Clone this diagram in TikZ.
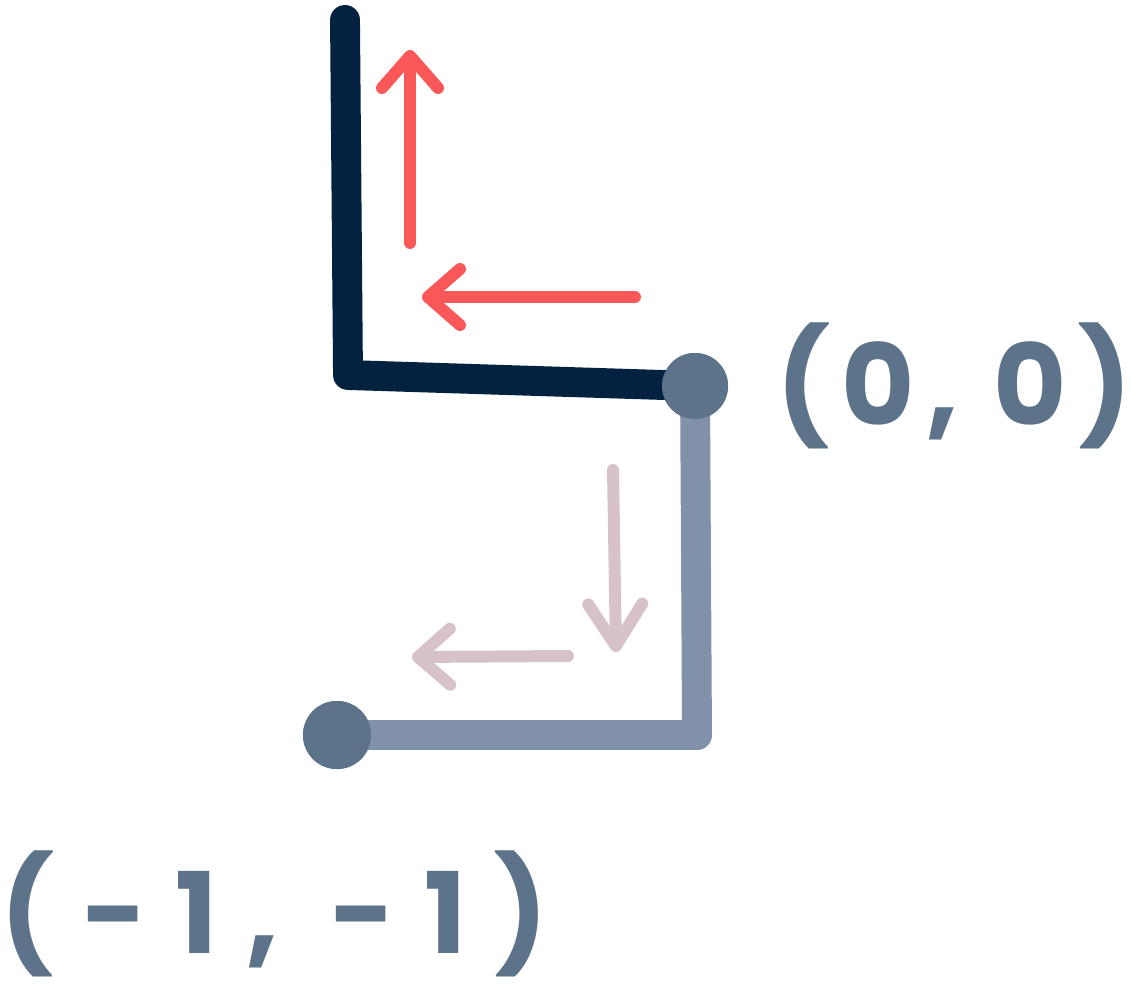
\documentclass[tikz,border=0pt]{standalone}
\usepackage{fontspec}
\setmainfont{Poppins}
\newfontfamily\sketchfont[LetterSpace=10]{Poppins Bold}
\newfontfamily\sketchwidefont[LetterSpace=25]{Poppins Bold}
\usetikzlibrary{arrows.meta}

\definecolor{pathdark}{HTML}{03223F}
\definecolor{pathgrey}{HTML}{8191A9}
\definecolor{dotblue}{HTML}{5D7389}
\definecolor{arrowred}{HTML}{FA5858}
\definecolor{arrowpink}{HTML}{D8C2CA}

\begin{document}
\begin{tikzpicture}[%
        x = 0.01cm, y = -0.01cm,
        leg/.style = {line width = 8.5pt, line cap = round, line join = round},
        dot/.style = {circle, fill = dotblue, inner sep = 0pt},
        hint/.style = {%
            line width = 3.4pt, line cap = round,
            -{Straight Barb[length = 3.2mm, width = 5.6mm, line cap = round, line join = round]}
        },
        label/.style = {text = dotblue, inner sep = 0pt, font = \fontsize{32}{32}\selectfont}
    ]

        % Fix the page to the size of the reference.
        \useasboundingbox (0, 0) rectangle (1131, 1000);

        % Corner points of the two legs.
        \coordinate (top) at (345, 20);
        \coordinate (bend) at (348, 375);
        \coordinate (turn) at (697, 735);

        % The two end dots.
        \node[dot, minimum width = 0.58cm, minimum height = 0.66cm] (origin) at (695, 386) {};
        \node[dot, minimum size = 0.68cm] (target) at (337, 735) {};

        % Light leg first, so the dark one sits over the dot edge.
        \draw[leg, pathgrey] (origin.center) -- (turn) -- (target.center);
        \draw[leg, pathdark] (top) -- (bend) -- (origin.center);
        \node[dot, minimum width = 0.58cm, minimum height = 0.66cm] at (origin) {};
        \node[dot, minimum size = 0.68cm] at (target) {};

        % Red arrows along the dark leg.
        \coordinate (up start) at (410, 243);
        \coordinate (up end) at (410, 50);
        \coordinate (left start) at (635, 297);
        \coordinate (left end) at (422, 297);
        \draw[hint, arrowred] (up start) -- (up end);
        \draw[hint, arrowred] (left start) -- (left end);

        % Pink arrows along the grey leg.
        \coordinate (down start) at (613, 470);
        \coordinate (down end) at (616, 652);
        \coordinate (back start) at (568, 656);
        \coordinate (back end) at (412, 657);
        \draw[hint, arrowpink, -{Straight Barb[length = 4.2mm, width = 5.4mm, line cap = round, line join = round]}] (down start) -- (down end);
        \draw[hint, arrowpink] (back start) -- (back end);

        % Labels of the two points.
        \node[label, anchor = west] (origin label) at (776, 386) {\sketchfont(0, 0)};
        \node[label, anchor = west] (target label) at (0, 914) {\sketchwidefont(-1, -1)};
    \end{tikzpicture}
\end{document}
